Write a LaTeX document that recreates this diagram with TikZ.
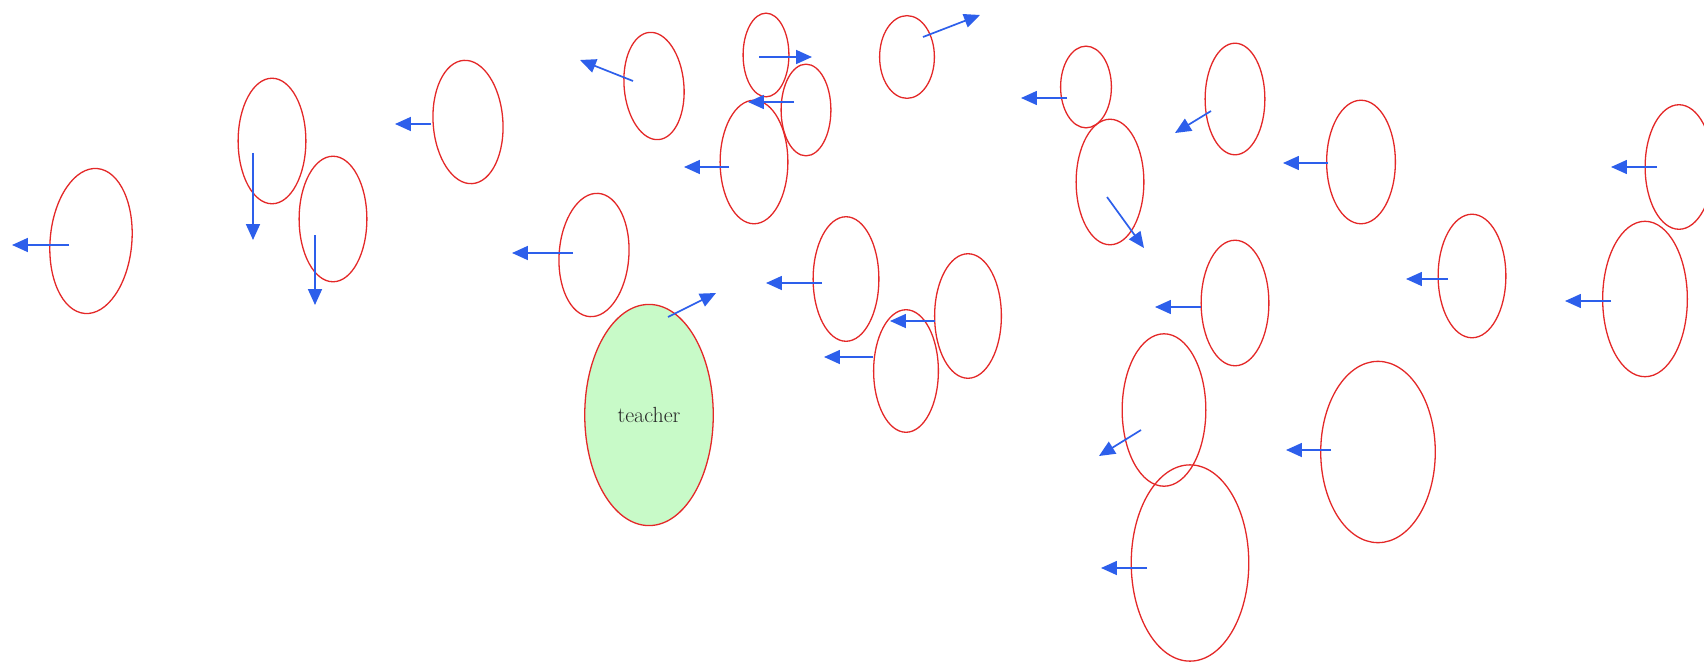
\documentclass[tikz,border=0pt]{standalone}
\usetikzlibrary{shapes.geometric,arrows.meta}
\definecolor{ered}{RGB}{228,40,40}
\definecolor{eblue}{RGB}{45,95,235}
\definecolor{tgreen}{RGB}{200,250,200}
\begin{document}
\begin{tikzpicture}[x=1bp,y=-1bp,
  person/.style={ellipse, draw=ered, line width=1.3pt, inner sep=0pt},
  move/.style={draw=eblue, line width=1.7pt, -{Triangle[length=16pt,width=14pt]}}]
\useasboundingbox (0,0) rectangle (1704,662);
\clip (0,0) rectangle (1704,662);
\fill[white] (0,0) rectangle (1704,662);
% ellipses
\node[person, minimum width=82pt, minimum height=146pt, rotate=-5] (A) at (91,241) {};
\node[person, minimum width=68pt, minimum height=126pt] (B) at (272,141) {};
\node[person, minimum width=68pt, minimum height=126pt] (C) at (333,219) {};
\node[person, minimum width=70pt, minimum height=124pt, rotate=4] (D) at (468,122) {};
\node[person, minimum width=60pt, minimum height=108pt, rotate=5] (E) at (654,86) {};
\node[person, minimum width=46pt, minimum height=84pt] (F) at (766,55) {};
\node[person, minimum width=50pt, minimum height=92pt] (G) at (806,110) {};
\node[person, minimum width=68pt, minimum height=124pt] (H) at (754,162) {};
\node[person, minimum width=70pt, minimum height=124pt, rotate=-4] (I) at (594,255) {};
\node[person, minimum width=66pt, minimum height=125pt] (J) at (846,279) {};
\node[person, minimum width=55pt, minimum height=83pt] (K) at (907,57) {};
\node[person, minimum width=51pt, minimum height=82pt] (L) at (1086,87) {};
\node[person, minimum width=68pt, minimum height=126pt] (M) at (1110,182) {};
\node[person, minimum width=60pt, minimum height=112pt] (N) at (1235,99) {};
\node[person, minimum width=68pt, minimum height=126pt] (O) at (1235,303) {};
\node[person, minimum width=67pt, minimum height=125pt] (P) at (968,316) {};
\node[person, minimum width=65pt, minimum height=123pt] (Q) at (906,371) {};
\node[person, minimum width=69pt, minimum height=124pt] (R) at (1361,162) {};
\node[person, minimum width=68pt, minimum height=124pt] (S) at (1472,276) {};
\node[person, minimum width=68pt, minimum height=125pt] (T) at (1679,167) {};
\node[person, minimum width=85pt, minimum height=156pt] (U) at (1645,299) {};
\node[person, minimum width=115pt, minimum height=182pt] (V) at (1378,452) {};
\node[person, minimum width=84pt, minimum height=153pt] (W) at (1164,410) {};
\node[person, minimum width=118pt, minimum height=197pt] (X) at (1190,563) {};
\node[person, fill=tgreen, minimum width=129pt, minimum height=222pt,
      text=black!85, font=\fontsize{22}{24}\selectfont] (teacher) at (649,415) {teacher};
% arrow coordinates
\coordinate (a1) at (69,245);   \coordinate (a2) at (12,245);
\coordinate (b1) at (253,153);  \coordinate (b2) at (253,240);
\coordinate (c1) at (315,235);  \coordinate (c2) at (315,305);
\coordinate (d1) at (431,124);  \coordinate (d2) at (395,124);
\coordinate (e1) at (633,81);   \coordinate (e2) at (580,60);
\coordinate (f1) at (759,57);   \coordinate (f2) at (812,57);
\coordinate (g1) at (794,102);  \coordinate (g2) at (748,102);
\coordinate (h1) at (729,167);  \coordinate (h2) at (684,167);
\coordinate (i1) at (573,253);  \coordinate (i2) at (512,253);
\coordinate (j1) at (822,283);  \coordinate (j2) at (766,283);
\coordinate (k1) at (923,37);   \coordinate (k2) at (980,15);
\coordinate (l1) at (1067,98);  \coordinate (l2) at (1021,98);
\coordinate (m1) at (1107,197); \coordinate (m2) at (1144,248);
\coordinate (n1) at (1211,111); \coordinate (n2) at (1175,133);
\coordinate (o1) at (1201,307); \coordinate (o2) at (1155,307);
\coordinate (p1) at (935,321);  \coordinate (p2) at (890,321);
\coordinate (q1) at (873,357);  \coordinate (q2) at (824,357);
\coordinate (r1) at (1328,163); \coordinate (r2) at (1283,163);
\coordinate (s1) at (1448,279); \coordinate (s2) at (1406,279);
\coordinate (t1) at (1657,167); \coordinate (t2) at (1611,167);
\coordinate (u1) at (1611,301); \coordinate (u2) at (1565,301);
\coordinate (v1) at (1331,450); \coordinate (v2) at (1286,450);
\coordinate (w1) at (1141,430); \coordinate (w2) at (1099,456);
\coordinate (x1) at (1147,568); \coordinate (x2) at (1101,568);
\coordinate (tc1) at (668,317); \coordinate (tc2) at (716,293);
% arrows
\foreach \p in {a,b,c,d,e,f,g,h,i,j,k,l,m,n,o,p,q,r,s,t,u,v,w,x,tc}
  \draw[move] (\p1) -- (\p2);
\end{tikzpicture}
\end{document}
